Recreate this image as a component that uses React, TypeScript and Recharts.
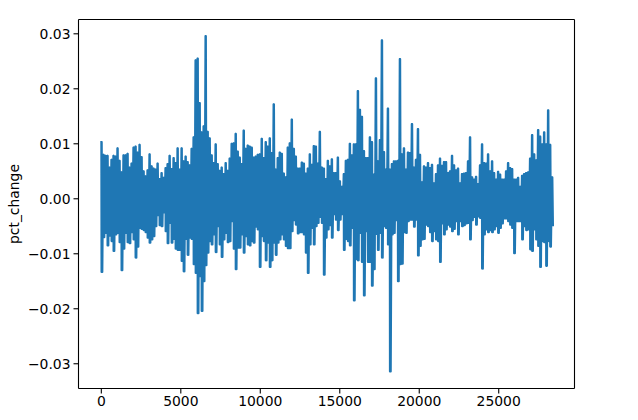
import React from 'react';
import { LineChart, Line, XAxis, YAxis, ReferenceLine } from 'recharts';

// upper envelope of pct_change, in thousandths, one reading every 126 samples
const upper = [
  10.3, 8.0, 7.8, 7.8, 5.7, 7.1, 7.8, 7.7, 9.2, 6.9, 4.8, 7.9, 7.9, 8.2, 5.7, 6.4, 9.3, 9.5, 8.4, 9.8,
  7.6, 5.0, 4.1, 5.2, 8.1, 5.9, 5.5, 5.3, 6.4, 3.6, 4.7, 3.8, 5.6, 6.3, 7.8, 5.4, 7.4, 6.5, 9.2, 5.3,
  9.2, 6.8, 7.7, 6.7, 6.1, 9.1, 11.2, 25.2, 25.5, 17.4, 12.1, 13.2, 29.6, 12.2, 11.0, 7.9, 6.5, 9.9, 6.3, 5.1,
  5.7, 4.5, 6.5, 5.1, 7.3, 10.0, 10.1, 11.8, 8.6, 7.5, 6.3, 12.4, 9.1, 9.7, 9.5,
  9.3, 7.5, 7.7, 8.0, 8.1, 10.9, 7.4, 10.3, 9.5, 11.0, 8.3, 17.2, 5.3, 7.4, 8.4, 8.2, 4.6, 3.9, 9.3, 10.1,
  14.4, 9.1, 7.7, 5.5, 5.5, 6.6, 6.4, 4.6, 5.5, 8.1, 6.2, 9.6, 9.5, 6.4, 12.2, 5.7, 5.5, 3.6, 6.9, 5.9,
  7.2, 4.7, 4.7, 7.5, 3.2, 2.2, 4.5, 6.9, 7.1, 10.0, 7.9, 9.9, 9.9, 19.6, 16.2, 14.9, 8.7, 7.4, 7.4, 11.2,
  10.3, 4.4, 21.9, 6.8, 10.7, 28.8, 8.5, 5.3, 16.4, 5.3, 6.3, 6.8, 6.8, 6.9, 25.4, 8.1, 9.2, 5.3, 8.4, 8.3,
  13.6, 5.7, 7.1, 12.7, 8.0,
  3.0, 5.9, 5.7, 6.5, 5.6, 6.2, 2.8, 4.5, 6.1, 7.3, 6.0, 6.7, 6.7, 4.7, 5.0, 7.8, 6.1, 5.2, 5.5, 2.8,
  4.5, 4.6, 4.7, 6.8, 11.2, 3.9, 3.5, 4.0, 2.7, 6.1, 9.9, 6.5, 6.4, 8.1, 5.0, 6.8, 4.7, 3.5, 4.9, 4.4,
  3.5, 3.5, 5.0, 6.5, 5.6, 5.4, 3.5, 3.5, 3.8, 2.2, 4.2, 4.5, 4.7, 4.8, 7.3, 11.6, 8.1, 7.0, 12.5, 11.3,
  9.9, 12.1, 9.9, 16.1, 9.8, 3.9,
];

// lower envelope, same spacing, as negative readings
const lower = [
  13.3, 7.0, 6.2, 8.5, 6.7, 7.7, 9.5, 6.5, 6.2, 7.9, 13.0, 9.1, 6.2, 7.9, 8.1, 6.1, 7.4, 10.7, 8.7, 5.3,
  5.5, 5.7, 6.1, 7.1, 8.0, 7.4, 6.8, 5.0, 3.0, 4.8, 5.0, 2.5, 5.9, 8.1, 4.4, 8.0, 7.3, 9.1, 9.3, 9.3,
  11.3, 13.2, 7.3, 10.2, 7.1, 7.3, 11.9, 13.5, 20.8, 14.1, 20.4, 15.0, 12.1, 9.8, 7.7, 8.3, 6.5, 9.7, 5.0, 8.3,
  10.6, 7.4, 6.2, 7.9, 7.7, 4.1, 9.1, 12.8, 8.9, 8.9, 6.5, 9.8, 6.8, 8.3, 8.5,
  7.7, 8.0, 5.1, 5.6, 12.4, 6.8, 7.7, 11.2, 8.0, 12.4, 11.2, 8.0, 10.2, 8.0, 7.4, 6.5, 7.4, 8.6, 9.0, 9.0,
  5.9, 3.9, 4.7, 6.3, 6.1, 6.1, 6.5, 9.8, 13.5, 8.3, 5.3, 8.3, 5.0, 4.4, 3.3, 4.4, 13.8, 7.1, 5.6, 4.8,
  7.1, 2.8, 3.8, 5.7, 3.8, 2.8, 9.3, 7.3, 7.7, 8.5, 5.3, 18.5, 11.0, 11.2, 6.2, 11.5, 17.6, 5.9, 11.5, 11.5,
  15.8, 12.8, 6.4, 9.3, 6.2, 10.7, 5.0, 5.3, 8.3, 31.4, 6.5, 6.2, 3.9, 15.0, 11.9, 11.8, 6.1, 6.2, 4.1, 3.8,
  3.8, 5.1, 3.8, 10.3, 8.6,
  7.4, 7.3, 4.7, 5.0, 6.1, 7.7, 5.9, 7.4, 7.7, 11.5, 4.5, 6.5, 5.6, 4.7, 5.1, 5.9, 5.5, 4.1, 6.5, 4.1,
  5.0, 4.8, 4.5, 4.4, 7.4, 3.9, 3.3, 4.7, 3.2, 3.5, 12.7, 6.5, 5.6, 6.1, 5.7, 6.1, 5.6, 5.0, 6.2, 5.3,
  4.5, 3.6, 3.6, 4.1, 4.7, 5.3, 9.9, 4.1, 4.1, 4.1, 7.4, 5.0, 5.7, 5.6, 9.2, 9.5, 5.6, 7.4, 8.6, 12.4,
  7.7, 7.9, 12.2, 7.7, 8.7, 4.8,
];

const xTicks = [0, 5000, 10000, 15000, 20000, 25000];
const yTicks = [-0.03, -0.02, -0.01, 0, 0.01, 0.02, 0.03];
const xDomain = [-1436, 29767];
const yDomain = [-0.0345, 0.0326];

// each reading swings up and down twice, the series is far denser than a pixel
const data = upper.flatMap((v, i) => [
  { t: i * 126, pct: v / 1000 },
  { t: i * 126 + 12, pct: -lower[i] / 1000 },
  { t: i * 126 + 25, pct: v / 1000 },
  { t: i * 126 + 63, pct: -lower[i] / 1000 },
]);

const tickStyle = { fontFamily: 'DejaVu Sans', fontSize: 13.9, fill: '#000' };

const formatY = (v: number) => v.toFixed(2).replace('-', '\u2212');

export default function App() {
  return (
    <div style={{ position: 'absolute', left: 0, top: 0, width: 638, height: 420, background: '#fff' }}>
      <LineChart width={638} height={420} data={data} margin={{ top: 19.5, right: 63.5, bottom: 0, left: 0 }}>
        <XAxis
          dataKey="t"
          type="number"
          domain={xDomain}
          ticks={xTicks}
          interval={0}
          height={31.5}
          tick={tickStyle}
          tickSize={5}
          tickMargin={3}
          tickLine={{ stroke: '#000', strokeWidth: 1.1 }}
          axisLine={{ stroke: '#000', strokeWidth: 1.1 }}
        />
        <YAxis
          type="number"
          domain={yDomain}
          ticks={yTicks}
          interval={0}
          width={78.5}
          tick={tickStyle}
          tickFormatter={formatY}
          tickSize={5}
          tickMargin={3}
          tickLine={{ stroke: '#000', strokeWidth: 1.1 }}
          axisLine={{ stroke: '#000', strokeWidth: 1.1 }}
          label={{ value: 'pct_change', angle: -90, position: 'insideLeft', offset: 14, style: { ...tickStyle, textAnchor: 'middle' } }}
        />
        <ReferenceLine x={xDomain[1]} stroke="#000" strokeWidth={1.1} />
        <ReferenceLine y={yDomain[1]} stroke="#000" strokeWidth={1.1} />
        <Line
          dataKey="pct"
          type="linear"
          stroke="#1f77b4"
          strokeWidth={2.08}
          strokeLinejoin="round"
          strokeLinecap="square"
          dot={false}
          activeDot={false}
          isAnimationActive={false}
        />
      </LineChart>
    </div>
  );
}
